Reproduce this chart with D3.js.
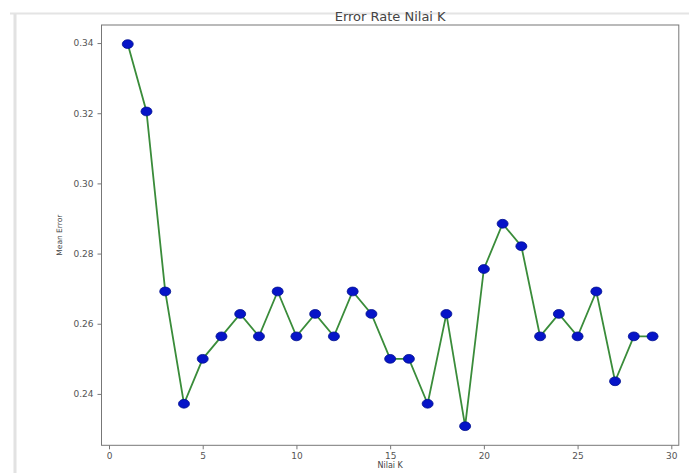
<!DOCTYPE html>
<html>
<head>
<meta charset="utf-8">
<script src="https://cdnjs.cloudflare.com/ajax/libs/d3/7.8.5/d3.min.js"></script>
<style>
  body { margin: 0; background: #fff; }
  svg { display: block; font-family: "DejaVu Sans", sans-serif; }
</style>
</head>
<body>
<div id="graph"></div>
<script>
// Chart data
var kValues = d3.range(1, 30);
var meanError = [
    0.3397, 0.3205, 0.2692, 0.2372, 0.2500, 0.2564, 0.2628, 0.2564, 0.2692, 0.2564,
    0.2628, 0.2564, 0.2692, 0.2628, 0.2500, 0.2500, 0.2372, 0.2628, 0.2308, 0.2756,
    0.2885, 0.2821, 0.2564, 0.2628, 0.2564, 0.2692, 0.2436, 0.2564, 0.2564
];
var xTicks = [0, 5, 10, 15, 20, 25, 30];
var yTicks = [0.24, 0.26, 0.28, 0.30, 0.32, 0.34];

var data = kValues.map(function(k, i) { return {k: k, err: meanError[i]}; });

// Graph dimensions
var W = 689, H = 473;
var margin = {top: 25, right: 10.2, bottom: 27.7, left: 101.5};

// Matplotlib-like 5% padding on both axes
var xExt = d3.extent(kValues), xPad = (xExt[1] - xExt[0]) * 0.05;
var yExt = d3.extent(meanError), yPad = (yExt[1] - yExt[0]) * 0.05;

var x = d3.scaleLinear()
    .domain([xExt[0] - xPad, xExt[1] + xPad])
    .range([margin.left, W - margin.right]);
var y = d3.scaleLinear()
    .domain([yExt[0] - yPad, yExt[1] + yPad])
    .range([H - margin.bottom, margin.top]);

var svg = d3.select('#graph')
    .append('svg')
    .attr('width', W)
    .attr('height', H);

// Notebook frame lines
svg.append('line')
    .attr('x1', 10).attr('x2', W).attr('y1', 13.5).attr('y2', 13.5)
    .attr('stroke', '#e4e4e4').attr('stroke-width', 2);
svg.append('line')
    .attr('x1', 15).attr('x2', 15).attr('y1', 14).attr('y2', H)
    .attr('stroke', '#e2e2e2').attr('stroke-width', 3);

// Axes
var xAxis = d3.axisBottom(x).tickValues(xTicks).tickSize(4).tickPadding(3).tickSizeOuter(0);
var yAxis = d3.axisLeft(y).tickValues(yTicks).tickSize(4).tickPadding(4)
    .tickFormat(d3.format('.2f')).tickSizeOuter(0);

var gx = svg.append('g')
    .attr('transform', 'translate(0,' + (H - margin.bottom) + ')')
    .call(xAxis);
var gy = svg.append('g')
    .attr('transform', 'translate(' + margin.left + ',0)')
    .call(yAxis);

[gx, gy].forEach(function(g) {
    g.select('.domain').remove();
    g.selectAll('.tick line').attr('stroke', '#777');
    g.selectAll('.tick text')
        .attr('fill', '#555')
        .style('font-size', '9px')
        .style('font-family', '"DejaVu Sans", sans-serif');
});

// Plot frame
svg.append('rect')
    .attr('x', x.range()[0])
    .attr('y', y.range()[1])
    .attr('width', x.range()[1] - x.range()[0])
    .attr('height', y.range()[0] - y.range()[1])
    .attr('fill', 'none')
    .attr('stroke', '#777')
    .attr('stroke-width', 1);

// Line
var line = d3.line()
    .x(function(d) { return x(d.k); })
    .y(function(d) { return y(d.err); });

svg.append('path')
    .datum(data)
    .attr('fill', 'none')
    .attr('stroke', '#3a8c3a')
    .attr('stroke-width', 1.8)
    .attr('d', line);

// Markers
svg.append('g')
    .selectAll('ellipse')
    .data(data)
    .enter()
    .append('ellipse')
        .attr('cx', function(d) { return x(d.k); })
        .attr('cy', function(d) { return y(d.err); })
        .attr('rx', 5.5)
        .attr('ry', 4.4)
        .attr('fill', '#0614c8')
        .attr('stroke', '#00108e')
        .attr('stroke-width', 0.8);

// Title and labels
svg.append('text')
    .attr('x', (x.range()[0] + x.range()[1]) / 2)
    .attr('y', 21)
    .attr('text-anchor', 'middle')
    .attr('fill', '#444')
    .style('font-size', '13px')
    .text('Error Rate Nilai K');

svg.append('text')
    .attr('x', (x.range()[0] + x.range()[1]) / 2)
    .attr('y', 468)
    .attr('text-anchor', 'middle')
    .attr('fill', '#444')
    .style('font-size', '8px')
    .text('Nilai K');

svg.append('text')
    .attr('transform', 'translate(62,' + ((y.range()[0] + y.range()[1]) / 2) + ') rotate(-90)')
    .attr('text-anchor', 'middle')
    .attr('fill', '#444')
    .style('font-size', '7.5px')
    .text('Mean Error');
</script>
</body>
</html>
